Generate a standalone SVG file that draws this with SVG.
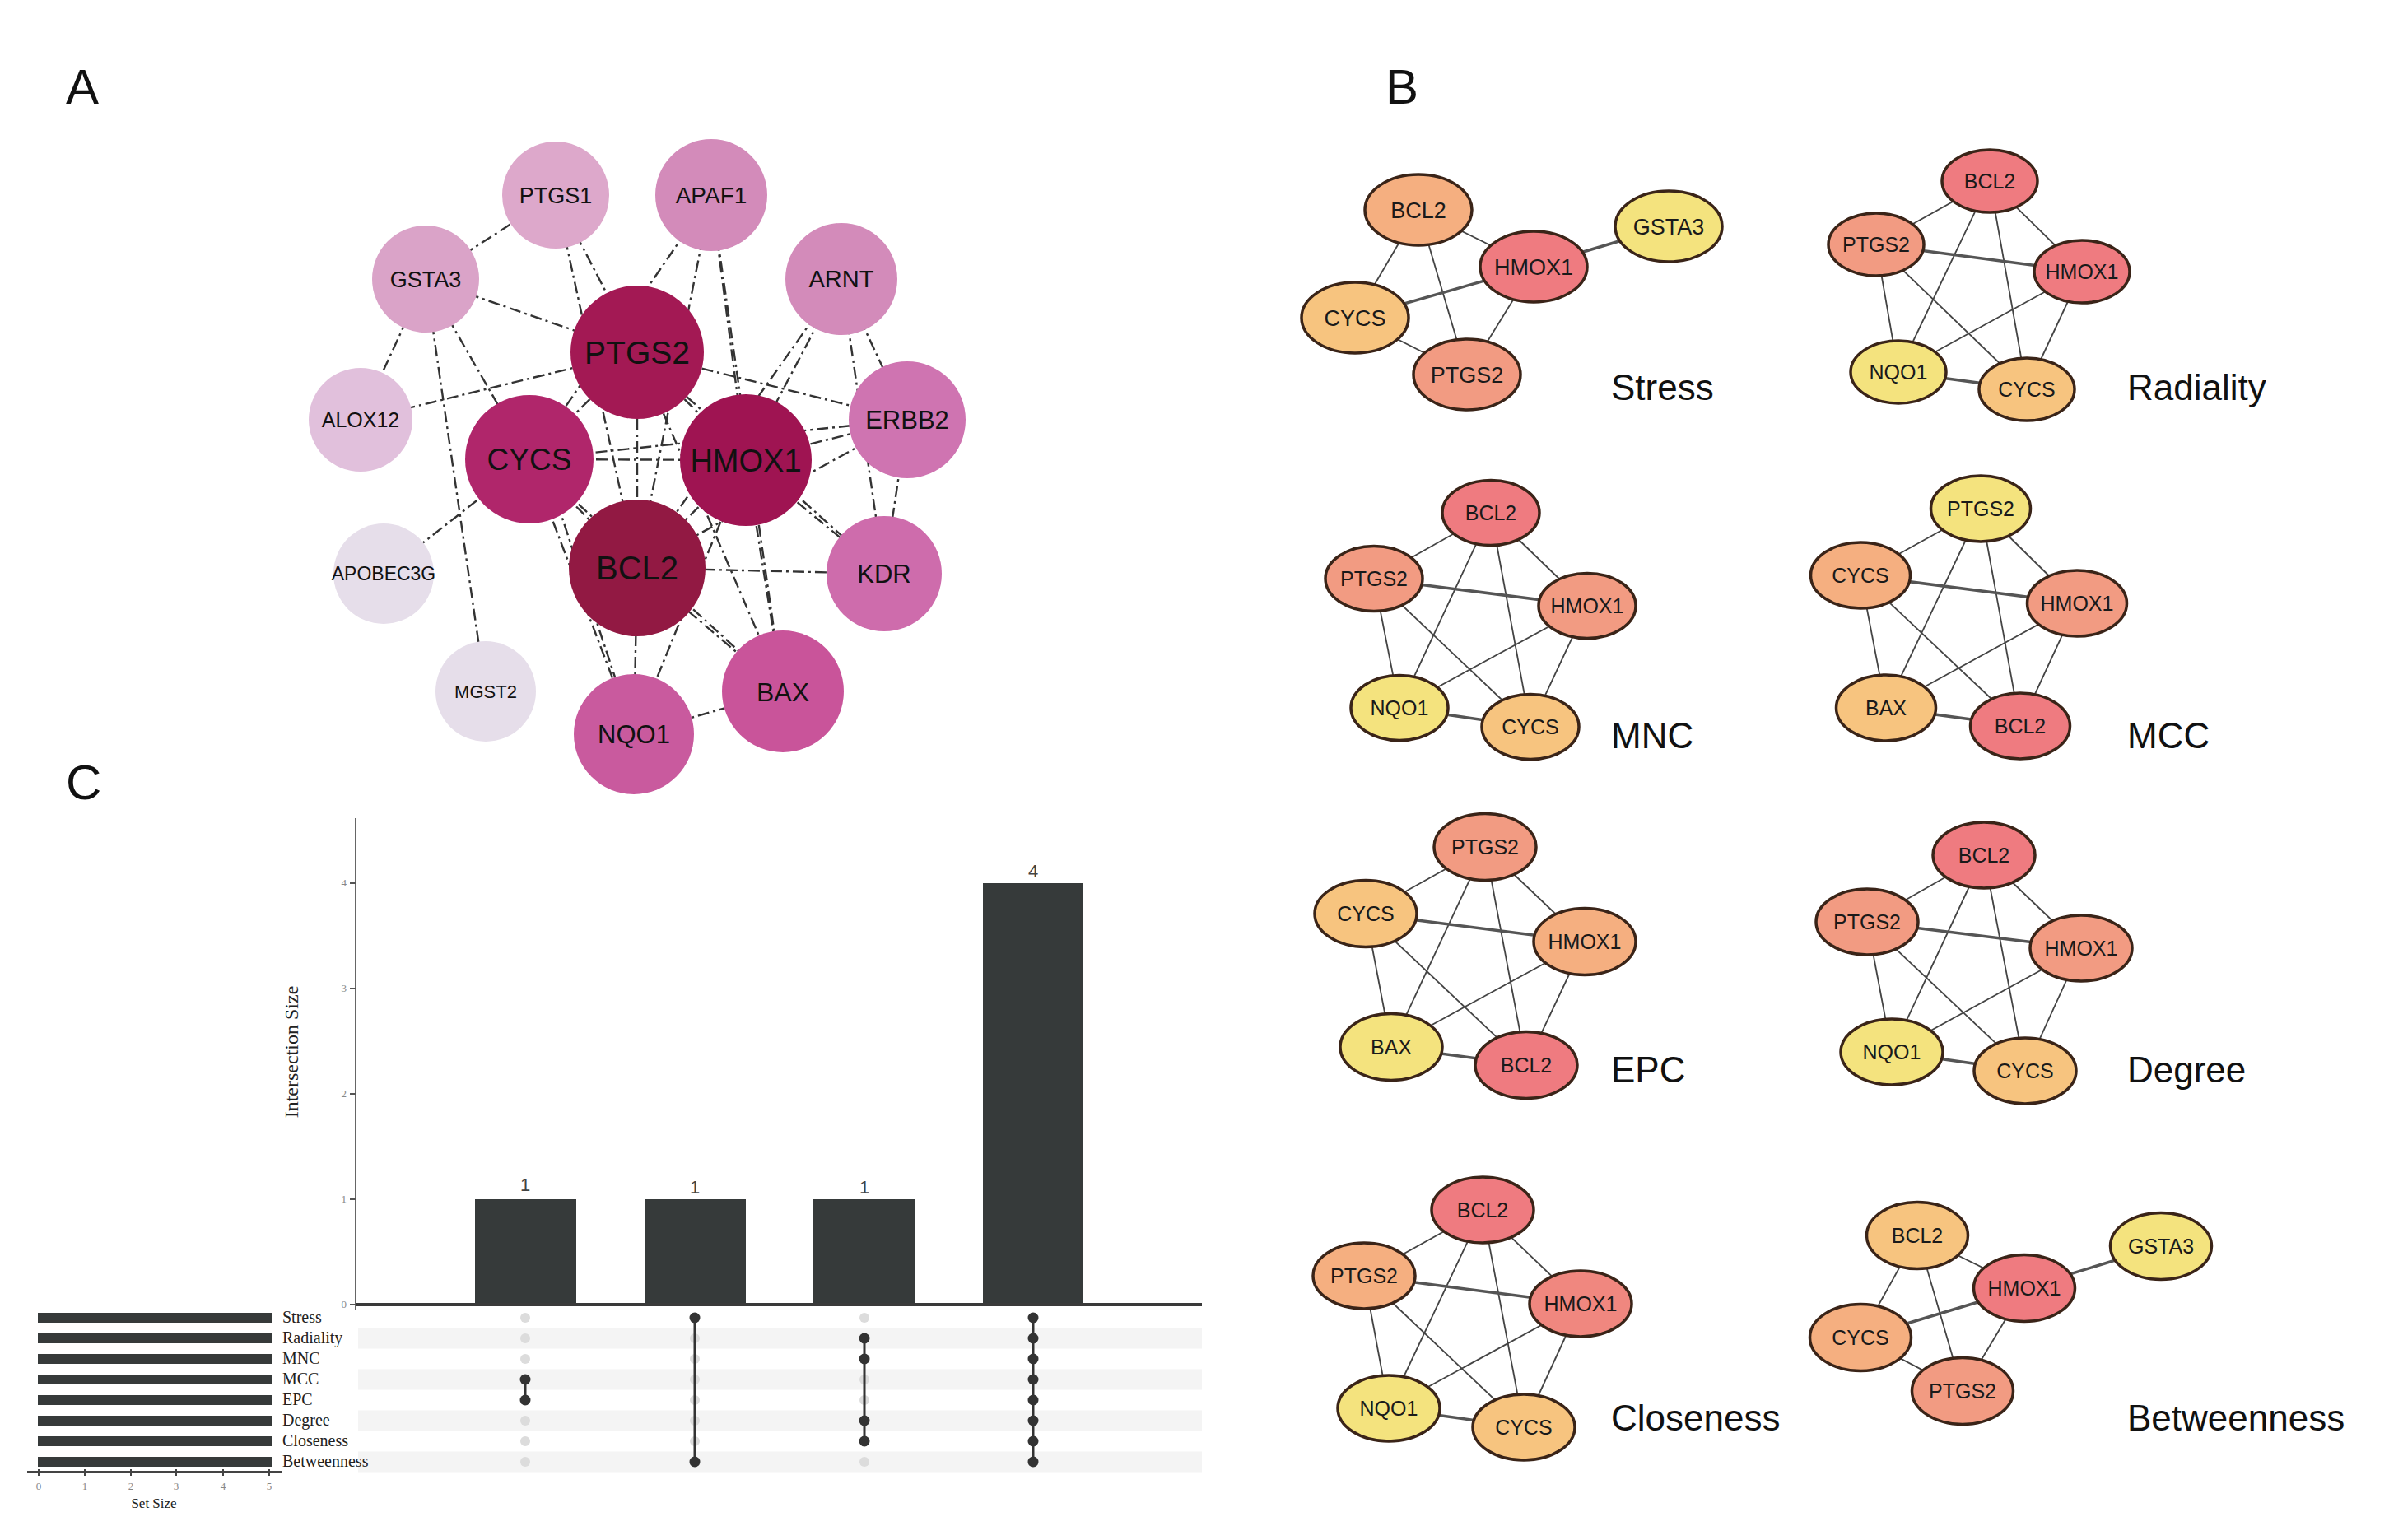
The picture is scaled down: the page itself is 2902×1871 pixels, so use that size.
<svg xmlns="http://www.w3.org/2000/svg" width="2902" height="1871" viewBox="0 0 2902 1871">
<style>
.lbl{font-family:"Liberation Sans",Arial,sans-serif;font-size:60px;fill:#111}
.ea{stroke:#333;stroke-width:2.4;stroke-dasharray:14 5 3 5;fill:none}
.ta{font-family:"Liberation Sans",Arial,sans-serif;fill:#111;text-anchor:middle}
.eb{stroke:#444;stroke-width:1.8}
.ebt{stroke:#555;stroke-width:3.5}
.nb{stroke:#3a2418;stroke-width:3.5}
.tb{font-family:"Liberation Sans",Arial,sans-serif;fill:#1a1a1a;text-anchor:middle;font-size:25px}
.ts{font-size:27px}
.mt{font-family:"Liberation Sans",Arial,sans-serif;font-size:44px;fill:#111}
.red{fill:#EF7B80}.sal{fill:#F29B82}.pch{fill:#F5AF80}.lor{fill:#F7C47F}.yel{fill:#F4E37E}
.bar{fill:#363A3A}
.ser{font-family:"Liberation Serif","Times New Roman",serif;fill:#222}
.tick{font-family:"Liberation Serif","Times New Roman",serif;fill:#888;font-size:13px}
.dot0{fill:#DCDCDC}.dot1{fill:#333}
.band{fill:#F4F4F4}
</style>

<text class="lbl" x="80" y="126">A</text>
<text class="lbl" x="1683" y="126">B</text>
<text class="lbl" x="80" y="971">C</text>

<!-- Panel A -->
<g id="edges-A">
<line class="ea" x1="517" y1="339" x2="675" y2="237"/>
<line class="ea" x1="675" y1="237" x2="774" y2="428"/>
<line class="ea" x1="675" y1="237" x2="774" y2="690"/>
<line class="ea" x1="864" y1="237" x2="643" y2="558"/>
<line class="ea" x1="864" y1="237" x2="774" y2="690"/>
<line class="ea" x1="864" y1="237" x2="906" y2="559"/>
<line class="ea" x1="864" y1="237" x2="951" y2="840"/>
<line class="ea" x1="517" y1="339" x2="774" y2="428"/>
<line class="ea" x1="517" y1="339" x2="438" y2="510"/>
<line class="ea" x1="517" y1="339" x2="590" y2="840"/>
<line class="ea" x1="517" y1="339" x2="643" y2="558"/>
<line class="ea" x1="438" y1="510" x2="774" y2="428"/>
<line class="ea" x1="1022" y1="339" x2="906" y2="559"/>
<line class="ea" x1="1022" y1="339" x2="774" y2="690"/>
<line class="ea" x1="1022" y1="339" x2="1102" y2="510"/>
<line class="ea" x1="1022" y1="339" x2="1074" y2="697"/>
<line class="ea" x1="774" y1="428" x2="1102" y2="510"/>
<line class="ea" x1="774" y1="428" x2="643" y2="558"/>
<line class="ea" x1="774" y1="428" x2="906" y2="559"/>
<line class="ea" x1="774" y1="428" x2="774" y2="690"/>
<line class="ea" x1="774" y1="428" x2="951" y2="840"/>
<line class="ea" x1="774" y1="428" x2="1074" y2="697"/>
<line class="ea" x1="643" y1="558" x2="906" y2="559"/>
<line class="ea" x1="643" y1="558" x2="1102" y2="510"/>
<line class="ea" x1="643" y1="558" x2="774" y2="690"/>
<line class="ea" x1="643" y1="558" x2="770" y2="892"/>
<line class="ea" x1="660" y1="560" x2="770" y2="892"/>
<line class="ea" x1="643" y1="558" x2="466" y2="697"/>
<line class="ea" x1="643" y1="558" x2="951" y2="840"/>
<line class="ea" x1="906" y1="559" x2="1102" y2="510"/>
<line class="ea" x1="906" y1="559" x2="1074" y2="697"/>
<line class="ea" x1="906" y1="559" x2="774" y2="690"/>
<line class="ea" x1="906" y1="559" x2="951" y2="840"/>
<line class="ea" x1="906" y1="559" x2="770" y2="892"/>
<line class="ea" x1="1102" y1="510" x2="1074" y2="697"/>
<line class="ea" x1="1102" y1="510" x2="774" y2="690"/>
<line class="ea" x1="774" y1="690" x2="1074" y2="697"/>
<line class="ea" x1="774" y1="690" x2="951" y2="840"/>
<line class="ea" x1="774" y1="690" x2="770" y2="892"/>
<line class="ea" x1="770" y1="892" x2="951" y2="840"/>
</g>

<g id="a-PTGS1"><circle cx="675" cy="237" r="65" fill="#DDA8CB"/><text class="ta" x="675" y="237" dy="0.36em" font-size="27">PTGS1</text></g>
<g id="a-APAF1"><circle cx="864" cy="237" r="68" fill="#D38BBA"/><text class="ta" x="864" y="237" dy="0.36em" font-size="28">APAF1</text></g>
<g id="a-GSTA3"><circle cx="517" cy="339" r="65" fill="#DAA3C8"/><text class="ta" x="517" y="339" dy="0.36em" font-size="27">GSTA3</text></g>
<g id="a-ARNT"><circle cx="1022" cy="339" r="68" fill="#D38BBA"/><text class="ta" x="1022" y="339" dy="0.36em" font-size="29">ARNT</text></g>
<g id="a-ALOX12"><circle cx="438" cy="510" r="63" fill="#E1C0DC"/><text class="ta" x="438" y="510" dy="0.36em" font-size="25">ALOX12</text></g>
<g id="a-ERBB2"><circle cx="1102" cy="510" r="71" fill="#CF74B1"/><text class="ta" x="1102" y="510" dy="0.36em" font-size="31">ERBB2</text></g>
<g id="a-APOBEC3G"><circle cx="466" cy="697" r="61" fill="#E6DEEA"/><text class="ta" x="466" y="697" dy="0.36em" font-size="23">APOBEC3G</text></g>
<g id="a-KDR"><circle cx="1074" cy="697" r="70" fill="#CE6CAC"/><text class="ta" x="1074" y="697" dy="0.36em" font-size="31">KDR</text></g>
<g id="a-MGST2"><circle cx="590" cy="840" r="61" fill="#E6DEEA"/><text class="ta" x="590" y="840" dy="0.36em" font-size="22">MGST2</text></g>
<g id="a-BAX"><circle cx="951" cy="840" r="74" fill="#C9549A"/><text class="ta" x="951" y="840" dy="0.36em" font-size="32">BAX</text></g>
<g id="a-NQO1"><circle cx="770" cy="892" r="73" fill="#C95A9E"/><text class="ta" x="770" y="892" dy="0.36em" font-size="31">NQO1</text></g>
<g id="a-PTGS2"><circle cx="774" cy="428" r="81" fill="#A31954"/><text class="ta" x="774" y="428" dy="0.36em" font-size="39">PTGS2</text></g>
<g id="a-CYCS"><circle cx="643" cy="558" r="78" fill="#B0266B"/><text class="ta" x="643" y="558" dy="0.36em" font-size="37">CYCS</text></g>
<g id="a-HMOX1"><circle cx="906" cy="559" r="80" fill="#9F1452"/><text class="ta" x="906" y="559" dy="0.36em" font-size="38">HMOX1</text></g>
<g id="a-BCL2"><circle cx="774" cy="690" r="83" fill="#921943"/><text class="ta" x="774" y="690" dy="0.36em" font-size="40">BCL2</text></g>

<!-- Panel B: Stress -->
<g id="edges-stress">
<line class="eb" x1="1723" y1="255" x2="1863" y2="324"/>
<line class="eb" x1="1723" y1="255" x2="1646" y2="386"/>
<line class="eb" x1="1723" y1="255" x2="1782" y2="455"/>
<line class="ebt" x1="1863" y1="324" x2="2027" y2="275"/>
<line class="ebt" x1="1863" y1="324" x2="1646" y2="386"/>
<line class="eb" x1="1863" y1="324" x2="1782" y2="455"/>
<line class="eb" x1="1646" y1="386" x2="1782" y2="455"/>
</g>
<g id="s-BCL2"><ellipse class="nb pch" cx="1723" cy="255" rx="65" ry="43"/><text class="tb ts" x="1723" y="255" dy="0.36em">BCL2</text></g>
<g id="s-GSTA3"><ellipse class="nb yel" cx="2027" cy="275" rx="65" ry="43"/><text class="tb ts" x="2027" y="275" dy="0.36em">GSTA3</text></g>
<g id="s-HMOX1"><ellipse class="nb red" cx="1863" cy="324" rx="65" ry="43"/><text class="tb ts" x="1863" y="324" dy="0.36em">HMOX1</text></g>
<g id="s-CYCS"><ellipse class="nb lor" cx="1646" cy="386" rx="65" ry="43"/><text class="tb ts" x="1646" y="386" dy="0.36em">CYCS</text></g>
<g id="s-PTGS2"><ellipse class="nb sal" cx="1782" cy="455" rx="65" ry="43"/><text class="tb ts" x="1782" y="455" dy="0.36em">PTGS2</text></g>
<text class="mt" x="1957" y="486">Stress</text>

<!-- Radiality -->
<g id="edges-radiality">
<line class="eb" x1="2417" y1="220" x2="2279" y2="297"/>
<line class="eb" x1="2417" y1="220" x2="2529" y2="330"/>
<line class="eb" x1="2417" y1="220" x2="2306" y2="452"/>
<line class="eb" x1="2417" y1="220" x2="2462" y2="473"/>
<line class="ebt" x1="2279" y1="297" x2="2529" y2="330"/>
<line class="eb" x1="2279" y1="297" x2="2306" y2="452"/>
<line class="eb" x1="2279" y1="297" x2="2462" y2="473"/>
<line class="eb" x1="2529" y1="330" x2="2306" y2="452"/>
<line class="eb" x1="2529" y1="330" x2="2462" y2="473"/>
<line class="ebt" x1="2306" y1="452" x2="2462" y2="473"/>
</g>
<g id="r-BCL2"><ellipse class="nb red" cx="2417" cy="220" rx="58" ry="38"/><text class="tb" x="2417" y="220" dy="0.36em">BCL2</text></g>
<g id="r-PTGS2"><ellipse class="nb sal" cx="2279" cy="297" rx="58" ry="38"/><text class="tb" x="2279" y="297" dy="0.36em">PTGS2</text></g>
<g id="r-HMOX1"><ellipse class="nb red" cx="2529" cy="330" rx="58" ry="38"/><text class="tb" x="2529" y="330" dy="0.36em">HMOX1</text></g>
<g id="r-NQO1"><ellipse class="nb yel" cx="2306" cy="452" rx="58" ry="38"/><text class="tb" x="2306" y="452" dy="0.36em">NQO1</text></g>
<g id="r-CYCS"><ellipse class="nb lor" cx="2462" cy="473" rx="58" ry="38"/><text class="tb" x="2462" y="473" dy="0.36em">CYCS</text></g>
<text class="mt" x="2584" y="486">Radiality</text>

<!-- MNC -->
<g id="edges-mnc">
<line class="eb" x1="1811" y1="623" x2="1669" y2="703"/>
<line class="eb" x1="1811" y1="623" x2="1928" y2="736"/>
<line class="eb" x1="1811" y1="623" x2="1700" y2="860"/>
<line class="eb" x1="1811" y1="623" x2="1859" y2="883"/>
<line class="ebt" x1="1669" y1="703" x2="1928" y2="736"/>
<line class="eb" x1="1669" y1="703" x2="1700" y2="860"/>
<line class="eb" x1="1669" y1="703" x2="1859" y2="883"/>
<line class="eb" x1="1928" y1="736" x2="1700" y2="860"/>
<line class="eb" x1="1928" y1="736" x2="1859" y2="883"/>
<line class="ebt" x1="1700" y1="860" x2="1859" y2="883"/>
</g>
<g id="m-BCL2"><ellipse class="nb red" cx="1811" cy="623" rx="59" ry="39.5"/><text class="tb" x="1811" y="623" dy="0.36em">BCL2</text></g>
<g id="m-PTGS2"><ellipse class="nb sal" cx="1669" cy="703" rx="59" ry="39.5"/><text class="tb" x="1669" y="703" dy="0.36em">PTGS2</text></g>
<g id="m-HMOX1"><ellipse class="nb sal" cx="1928" cy="736" rx="59" ry="39.5"/><text class="tb" x="1928" y="736" dy="0.36em">HMOX1</text></g>
<g id="m-NQO1"><ellipse class="nb yel" cx="1700" cy="860" rx="59" ry="39.5"/><text class="tb" x="1700" y="860" dy="0.36em">NQO1</text></g>
<g id="m-CYCS"><ellipse class="nb lor" cx="1859" cy="883" rx="59" ry="39.5"/><text class="tb" x="1859" y="883" dy="0.36em">CYCS</text></g>
<text class="mt" x="1957" y="909">MNC</text>

<!-- MCC -->
<g id="edges-mcc">
<line class="eb" x1="2406" y1="618" x2="2260" y2="699"/>
<line class="eb" x1="2406" y1="618" x2="2523" y2="733"/>
<line class="eb" x1="2406" y1="618" x2="2291" y2="860"/>
<line class="eb" x1="2406" y1="618" x2="2454" y2="882"/>
<line class="ebt" x1="2260" y1="699" x2="2523" y2="733"/>
<line class="eb" x1="2260" y1="699" x2="2291" y2="860"/>
<line class="eb" x1="2260" y1="699" x2="2454" y2="882"/>
<line class="eb" x1="2523" y1="733" x2="2291" y2="860"/>
<line class="eb" x1="2523" y1="733" x2="2454" y2="882"/>
<line class="ebt" x1="2291" y1="860" x2="2454" y2="882"/>
</g>
<g id="c-PTGS2"><ellipse class="nb yel" cx="2406" cy="618" rx="60.5" ry="40"/><text class="tb" x="2406" y="618" dy="0.36em">PTGS2</text></g>
<g id="c-CYCS"><ellipse class="nb pch" cx="2260" cy="699" rx="60.5" ry="40"/><text class="tb" x="2260" y="699" dy="0.36em">CYCS</text></g>
<g id="c-HMOX1"><ellipse class="nb sal" cx="2523" cy="733" rx="60.5" ry="40"/><text class="tb" x="2523" y="733" dy="0.36em">HMOX1</text></g>
<g id="c-BAX"><ellipse class="nb lor" cx="2291" cy="860" rx="60.5" ry="40"/><text class="tb" x="2291" y="860" dy="0.36em">BAX</text></g>
<g id="c-BCL2"><ellipse class="nb red" cx="2454" cy="882" rx="60.5" ry="40"/><text class="tb" x="2454" y="882" dy="0.36em">BCL2</text></g>
<text class="mt" x="2584" y="909">MCC</text>

<!-- EPC -->
<g id="edges-epc">
<line class="eb" x1="1804" y1="1029" x2="1659" y2="1110"/>
<line class="eb" x1="1804" y1="1029" x2="1925" y2="1144"/>
<line class="eb" x1="1804" y1="1029" x2="1690" y2="1272"/>
<line class="eb" x1="1804" y1="1029" x2="1854" y2="1294"/>
<line class="ebt" x1="1659" y1="1110" x2="1925" y2="1144"/>
<line class="eb" x1="1659" y1="1110" x2="1690" y2="1272"/>
<line class="eb" x1="1659" y1="1110" x2="1854" y2="1294"/>
<line class="eb" x1="1925" y1="1144" x2="1690" y2="1272"/>
<line class="eb" x1="1925" y1="1144" x2="1854" y2="1294"/>
<line class="ebt" x1="1690" y1="1272" x2="1854" y2="1294"/>
</g>
<g id="e-PTGS2"><ellipse class="nb sal" cx="1804" cy="1029" rx="62" ry="40.5"/><text class="tb" x="1804" y="1029" dy="0.36em">PTGS2</text></g>
<g id="e-CYCS"><ellipse class="nb lor" cx="1659" cy="1110" rx="62" ry="40.5"/><text class="tb" x="1659" y="1110" dy="0.36em">CYCS</text></g>
<g id="e-HMOX1"><ellipse class="nb pch" cx="1925" cy="1144" rx="62" ry="40.5"/><text class="tb" x="1925" y="1144" dy="0.36em">HMOX1</text></g>
<g id="e-BAX"><ellipse class="nb yel" cx="1690" cy="1272" rx="62" ry="40.5"/><text class="tb" x="1690" y="1272" dy="0.36em">BAX</text></g>
<g id="e-BCL2"><ellipse class="nb red" cx="1854" cy="1294" rx="62" ry="40.5"/><text class="tb" x="1854" y="1294" dy="0.36em">BCL2</text></g>
<text class="mt" x="1957" y="1315">EPC</text>

<!-- Degree -->
<g id="edges-degree">
<line class="eb" x1="2410" y1="1039" x2="2268" y2="1120"/>
<line class="eb" x1="2410" y1="1039" x2="2528" y2="1152"/>
<line class="eb" x1="2410" y1="1039" x2="2298" y2="1278"/>
<line class="eb" x1="2410" y1="1039" x2="2460" y2="1301"/>
<line class="ebt" x1="2268" y1="1120" x2="2528" y2="1152"/>
<line class="eb" x1="2268" y1="1120" x2="2298" y2="1278"/>
<line class="eb" x1="2268" y1="1120" x2="2460" y2="1301"/>
<line class="eb" x1="2528" y1="1152" x2="2298" y2="1278"/>
<line class="eb" x1="2528" y1="1152" x2="2460" y2="1301"/>
<line class="ebt" x1="2298" y1="1278" x2="2460" y2="1301"/>
</g>
<g id="d-BCL2"><ellipse class="nb red" cx="2410" cy="1039" rx="62" ry="40"/><text class="tb" x="2410" y="1039" dy="0.36em">BCL2</text></g>
<g id="d-PTGS2"><ellipse class="nb sal" cx="2268" cy="1120" rx="62" ry="40"/><text class="tb" x="2268" y="1120" dy="0.36em">PTGS2</text></g>
<g id="d-HMOX1"><ellipse class="nb sal" cx="2528" cy="1152" rx="62" ry="40"/><text class="tb" x="2528" y="1152" dy="0.36em">HMOX1</text></g>
<g id="d-NQO1"><ellipse class="nb yel" cx="2298" cy="1278" rx="62" ry="40"/><text class="tb" x="2298" y="1278" dy="0.36em">NQO1</text></g>
<g id="d-CYCS"><ellipse class="nb lor" cx="2460" cy="1301" rx="62" ry="40"/><text class="tb" x="2460" y="1301" dy="0.36em">CYCS</text></g>
<text class="mt" x="2584" y="1315">Degree</text>

<!-- Closeness -->
<g id="edges-closeness">
<line class="eb" x1="1801" y1="1470" x2="1657" y2="1550"/>
<line class="eb" x1="1801" y1="1470" x2="1920" y2="1584"/>
<line class="eb" x1="1801" y1="1470" x2="1687" y2="1711"/>
<line class="eb" x1="1801" y1="1470" x2="1851" y2="1734"/>
<line class="ebt" x1="1657" y1="1550" x2="1920" y2="1584"/>
<line class="eb" x1="1657" y1="1550" x2="1687" y2="1711"/>
<line class="eb" x1="1657" y1="1550" x2="1851" y2="1734"/>
<line class="eb" x1="1920" y1="1584" x2="1687" y2="1711"/>
<line class="eb" x1="1920" y1="1584" x2="1851" y2="1734"/>
<line class="ebt" x1="1687" y1="1711" x2="1851" y2="1734"/>
</g>
<g id="cl-BCL2"><ellipse class="nb red" cx="1801" cy="1470" rx="62" ry="40"/><text class="tb" x="1801" y="1470" dy="0.36em">BCL2</text></g>
<g id="cl-PTGS2"><ellipse class="nb pch" cx="1657" cy="1550" rx="62" ry="40"/><text class="tb" x="1657" y="1550" dy="0.36em">PTGS2</text></g>
<g id="cl-HMOX1"><ellipse class="nb" fill="#F0877F" cx="1920" cy="1584" rx="62" ry="40"/><text class="tb" x="1920" y="1584" dy="0.36em">HMOX1</text></g>
<g id="cl-NQO1"><ellipse class="nb yel" cx="1687" cy="1711" rx="62" ry="40"/><text class="tb" x="1687" y="1711" dy="0.36em">NQO1</text></g>
<g id="cl-CYCS"><ellipse class="nb lor" cx="1851" cy="1734" rx="62" ry="40"/><text class="tb" x="1851" y="1734" dy="0.36em">CYCS</text></g>
<text class="mt" x="1957" y="1738">Closeness</text>

<!-- Betweenness -->
<g id="edges-betweenness">
<line class="eb" x1="2329" y1="1501" x2="2459" y2="1565"/>
<line class="eb" x1="2329" y1="1501" x2="2260" y2="1625"/>
<line class="eb" x1="2329" y1="1501" x2="2384" y2="1690"/>
<line class="ebt" x1="2459" y1="1565" x2="2625" y2="1514"/>
<line class="ebt" x1="2459" y1="1565" x2="2260" y2="1625"/>
<line class="eb" x1="2459" y1="1565" x2="2384" y2="1690"/>
<line class="eb" x1="2260" y1="1625" x2="2384" y2="1690"/>
</g>
<g id="bt-BCL2"><ellipse class="nb lor" cx="2329" cy="1501" rx="61.5" ry="40.5"/><text class="tb" x="2329" y="1501" dy="0.36em">BCL2</text></g>
<g id="bt-GSTA3"><ellipse class="nb yel" cx="2625" cy="1514" rx="61.5" ry="40.5"/><text class="tb" x="2625" y="1514" dy="0.36em">GSTA3</text></g>
<g id="bt-HMOX1"><ellipse class="nb red" cx="2459" cy="1565" rx="61.5" ry="40.5"/><text class="tb" x="2459" y="1565" dy="0.36em">HMOX1</text></g>
<g id="bt-CYCS"><ellipse class="nb pch" cx="2260" cy="1625" rx="61.5" ry="40.5"/><text class="tb" x="2260" y="1625" dy="0.36em">CYCS</text></g>
<g id="bt-PTGS2"><ellipse class="nb sal" cx="2384" cy="1690" rx="61.5" ry="40.5"/><text class="tb" x="2384" y="1690" dy="0.36em">PTGS2</text></g>
<text class="mt" x="2584" y="1738">Betweenness</text>

<!-- Panel C: UpSet -->
<g id="upset">
<rect class="band" x="435" y="1613.5" width="1025" height="25"/>
<rect class="band" x="435" y="1663.5" width="1025" height="25"/>
<rect class="band" x="435" y="1713.5" width="1025" height="25"/>
<rect class="band" x="435" y="1763.5" width="1025" height="25"/>

<line x1="432" y1="994" x2="432" y2="1592" stroke="#666" stroke-width="2"/>
<g stroke="#555" stroke-width="2">
<line x1="425" y1="1585" x2="432" y2="1585"/>
<line x1="425" y1="1457" x2="432" y2="1457"/>
<line x1="425" y1="1329" x2="432" y2="1329"/>
<line x1="425" y1="1201" x2="432" y2="1201"/>
<line x1="425" y1="1073" x2="432" y2="1073"/>
</g>
<g class="tick" text-anchor="end">
<text x="421" y="1589">0</text>
<text x="421" y="1461">1</text>
<text x="421" y="1333">2</text>
<text x="421" y="1205">3</text>
<text x="421" y="1077">4</text>
</g>
<text class="ser" font-size="24" text-anchor="middle" transform="translate(362,1278) rotate(-90)">Intersection Size</text>

<rect class="bar" x="577" y="1457" width="123" height="128"/>
<rect class="bar" x="783" y="1457" width="123" height="128"/>
<rect class="bar" x="988" y="1457" width="123" height="128"/>
<rect class="bar" x="1194" y="1073" width="122" height="512"/>
<line x1="432" y1="1585" x2="1460" y2="1585" stroke="#3a3a3a" stroke-width="4"/>
<g font-family="Liberation Sans,Arial,sans-serif" font-size="22" fill="#444" text-anchor="middle">
<text x="638" y="1447">1</text>
<text x="844" y="1450">1</text>
<text x="1050" y="1450">1</text>
<text x="1255" y="1066">4</text>
</g>

<g class="bar">
<rect x="46" y="1595" width="284" height="12"/>
<rect x="46" y="1620" width="284" height="12"/>
<rect x="46" y="1645" width="284" height="12"/>
<rect x="46" y="1670" width="284" height="12"/>
<rect x="46" y="1695" width="284" height="12"/>
<rect x="46" y="1720" width="284" height="12"/>
<rect x="46" y="1745" width="284" height="12"/>
<rect x="46" y="1770" width="284" height="12"/>
</g>
<g class="ser" font-size="20">
<text x="343" y="1607">Stress</text>
<text x="343" y="1632">Radiality</text>
<text x="343" y="1657">MNC</text>
<text x="343" y="1682">MCC</text>
<text x="343" y="1707">EPC</text>
<text x="343" y="1732">Degree</text>
<text x="343" y="1757">Closeness</text>
<text x="343" y="1782">Betweenness</text>
</g>
<line x1="33" y1="1788" x2="342" y2="1788" stroke="#444" stroke-width="2"/>
<g stroke="#444" stroke-width="2">
<line x1="47" y1="1785" x2="47" y2="1793"/>
<line x1="103" y1="1785" x2="103" y2="1793"/>
<line x1="159" y1="1785" x2="159" y2="1793"/>
<line x1="214" y1="1785" x2="214" y2="1793"/>
<line x1="271" y1="1785" x2="271" y2="1793"/>
<line x1="327" y1="1785" x2="327" y2="1793"/>
</g>
<g class="tick" text-anchor="middle" font-size="12">
<text x="47" y="1810">0</text>
<text x="103" y="1810">1</text>
<text x="159" y="1810">2</text>
<text x="214" y="1810">3</text>
<text x="271" y="1810">4</text>
<text x="327" y="1810">5</text>
</g>
<text class="ser" font-size="17" text-anchor="middle" x="187" y="1832">Set Size</text>

<!-- matrix dots -->
<g class="dot0">
<circle cx="638" cy="1601" r="6"/><circle cx="638" cy="1626" r="6"/><circle cx="638" cy="1651" r="6"/><circle cx="638" cy="1726" r="6"/><circle cx="638" cy="1751" r="6"/><circle cx="638" cy="1776" r="6"/>
<circle cx="844" cy="1626" r="6"/><circle cx="844" cy="1651" r="6"/><circle cx="844" cy="1676" r="6"/><circle cx="844" cy="1701" r="6"/><circle cx="844" cy="1726" r="6"/><circle cx="844" cy="1751" r="6"/>
<circle cx="1050" cy="1601" r="6"/><circle cx="1050" cy="1676" r="6"/><circle cx="1050" cy="1701" r="6"/><circle cx="1050" cy="1776" r="6"/>
</g>
<g stroke="#333" stroke-width="3">
<line x1="638" y1="1676" x2="638" y2="1701"/>
<line x1="844" y1="1601" x2="844" y2="1776"/>
<line x1="1050" y1="1626" x2="1050" y2="1751"/>
<line x1="1255" y1="1601" x2="1255" y2="1776"/>
</g>
<g class="dot1">
<circle cx="638" cy="1676" r="6.5"/><circle cx="638" cy="1701" r="6.5"/>
<circle cx="844" cy="1601" r="6.5"/><circle cx="844" cy="1776" r="6.5"/>
<circle cx="1050" cy="1626" r="6.5"/><circle cx="1050" cy="1651" r="6.5"/><circle cx="1050" cy="1726" r="6.5"/><circle cx="1050" cy="1751" r="6.5"/>
<circle cx="1255" cy="1601" r="6.5"/><circle cx="1255" cy="1626" r="6.5"/><circle cx="1255" cy="1651" r="6.5"/><circle cx="1255" cy="1676" r="6.5"/><circle cx="1255" cy="1701" r="6.5"/><circle cx="1255" cy="1726" r="6.5"/><circle cx="1255" cy="1751" r="6.5"/><circle cx="1255" cy="1776" r="6.5"/>
</g>
</g>
</svg>
